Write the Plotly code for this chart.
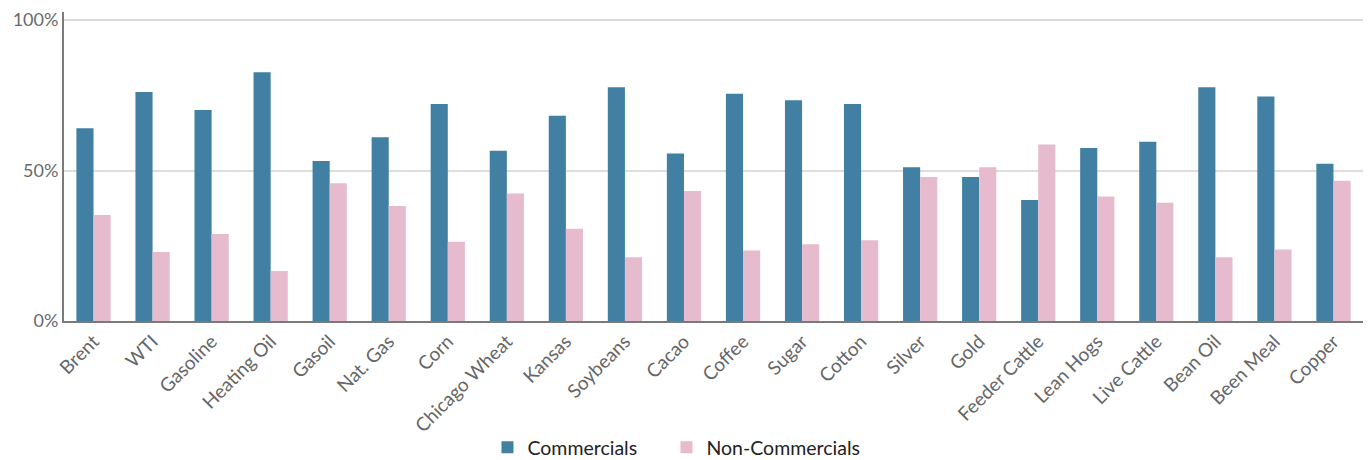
import plotly.graph_objects as go

categories = ["Brent", "WTI", "Gasoline", "Heating Oil", "Gasoil", "Nat. Gas", "Corn",
              "Chicago Wheat", "Kansas", "Soybeans", "Cacao", "Coffee", "Sugar", "Cotton",
              "Silver", "Gold", "Feeder Cattle", "Lean Hogs", "Live Cattle", "Bean Oil",
              "Been Meal", "Copper"]
commercials = [64.1, 76.1, 70.1, 82.7, 53.2, 61.1, 72.1, 56.6, 68.2, 77.7, 55.7, 75.5,
               73.4, 72.1, 51.1, 47.9, 40.2, 57.5, 59.6, 77.7, 74.6, 52.3]
non_commercials = [35.2, 22.9, 28.9, 16.6, 45.8, 38.2, 26.3, 42.4, 30.7, 21.2, 43.2, 23.4,
                   25.5, 26.8, 47.9, 51.1, 58.7, 41.4, 39.3, 21.2, 23.8, 46.6]
y_ticks = [0, 50, 100]
y_tick_labels = ["0%", "50%", "100%"]

BLUE = "#417FA3"
PINK = "#E6BBCD"
FONT = "Lato, Liberation Sans, sans-serif"

fig = go.Figure()
fig.add_trace(go.Bar(name="Commercials", x=categories, y=commercials, legend="legend",
                     marker=dict(color=BLUE, line=dict(width=0))))
fig.add_trace(go.Bar(name="Non-Commercials", x=categories, y=non_commercials, legend="legend2",
                     marker=dict(color=PINK, line=dict(width=0))))

legend_style = dict(orientation="h", xanchor="left", y=-0.41, yanchor="middle",
                    font=dict(size=19.5, color="#222222", family=FONT),
                    itemwidth=30, bgcolor="rgba(0,0,0,0)")

fig.update_layout(
    width=1370, height=460,
    margin=dict(l=64, r=7, t=12, b=139, autoexpand=False),
    paper_bgcolor="white", plot_bgcolor="white",
    barmode="group", bargap=0.42, bargroupgap=0,
    font=dict(family=FONT, color="#666666"),
    showlegend=True,
    legend=dict(x=0.326, **legend_style),
    legend2=dict(x=0.4638, **legend_style),
    xaxis=dict(tickangle=-45, tickfont=dict(size=19, color="#666666"),
               showline=True, linecolor="#7a7a7a", linewidth=2,
               showgrid=False, ticks="", automargin=False),
    yaxis=dict(range=[0, 102.7], tickmode="array", tickvals=y_ticks, ticktext=y_tick_labels,
               tickfont=dict(size=18, color="#6a6a6a"),
               showline=True, linecolor="#7a7a7a", linewidth=2,
               showgrid=True, gridcolor="#dddddd", gridwidth=1.5,
               zeroline=False, ticks="", automargin=False),
)

fig.write_html("out.html")
